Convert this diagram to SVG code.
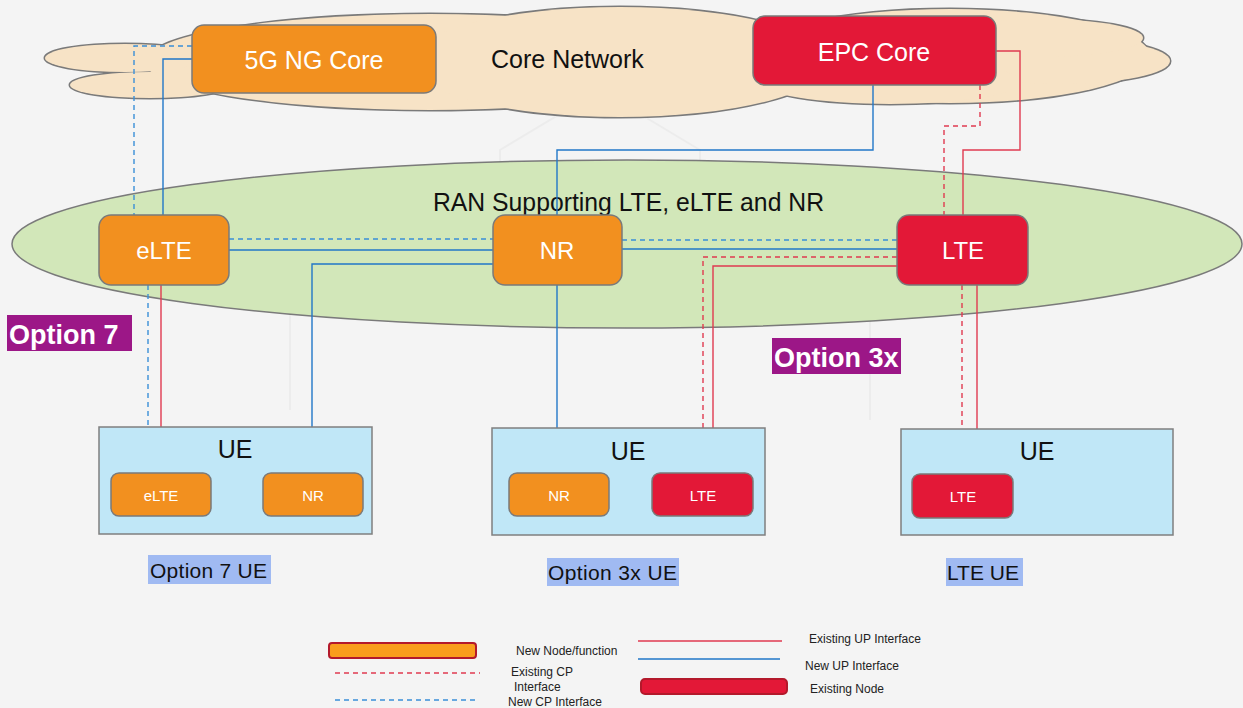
<svg xmlns="http://www.w3.org/2000/svg" width="1243" height="708" viewBox="0 0 1243 708">
<defs>
<style>
text{font-family:"Liberation Sans",Arial,sans-serif}
.node{stroke:#7a7a7a;stroke-width:1.5}
.new{fill:#f2901f}
.old{fill:#e31837}
.wt{fill:#fff;text-anchor:middle}
.bk{fill:#111}
.ue{fill:#c0e7f7;stroke:#7f7f7f;stroke-width:1.5}
.hl{fill:#a0baf2}
.opt{fill:#9c1787}
.ot{fill:#fff;font-weight:bold;font-size:27px}
.up-new{fill:none;stroke:#2177c8;stroke-width:1.4}
.cp-new{fill:none;stroke:#3a8fd8;stroke-width:1.4;stroke-dasharray:5 4}
.up-old{fill:none;stroke:#e03a50;stroke-width:1.4}
.cp-old{fill:none;stroke:#e03a50;stroke-width:1.4;stroke-dasharray:5 4}
.lg{font-size:12px;fill:#222}
</style>
</defs>
<rect width="1243" height="708" fill="#f4f4f4"/>
<g id="background-pattern" fill="none" stroke="#ececec" stroke-width="2">
<path d="M600 90 L700 150 L700 260 L600 320 L500 260 L500 150 Z"/>
<path d="M290 410 L290 300 L380 250"/>
<path d="M870 220 L870 420"/>
</g>
<g id="core-network">
<g fill="#7a7a7a" stroke="#7a7a7a" stroke-width="3">
<ellipse cx="430" cy="62" rx="285" ry="48"/>
<ellipse cx="620" cy="62" rx="210" ry="55"/>
<ellipse cx="125" cy="58" rx="80" ry="14"/>
<ellipse cx="150" cy="85" rx="80" ry="13"/>
<ellipse cx="950" cy="56" rx="200" ry="47"/>
<ellipse cx="1060" cy="61" rx="110" ry="23"/>
<ellipse cx="1040" cy="38" rx="103" ry="19"/>
<ellipse cx="890" cy="82" rx="130" ry="22"/>
</g>
<g fill="#f7e3c6">
<ellipse cx="430" cy="62" rx="285" ry="48"/>
<ellipse cx="620" cy="62" rx="210" ry="55"/>
<ellipse cx="125" cy="58" rx="80" ry="14"/>
<ellipse cx="150" cy="85" rx="80" ry="13"/>
<ellipse cx="950" cy="56" rx="200" ry="47"/>
<ellipse cx="1060" cy="61" rx="110" ry="23"/>
<ellipse cx="1040" cy="38" rx="103" ry="19"/>
<ellipse cx="890" cy="82" rx="130" ry="22"/>
</g>
<text x="491" y="68" font-size="25" class="bk">Core Network</text>
</g>
<g id="ran">
<ellipse cx="627" cy="244" rx="615" ry="84" fill="#d2e7b9" stroke="#7a7a7a" stroke-width="1.5"/>
<text x="433" y="211" font-size="25" class="bk" textLength="391" lengthAdjust="spacingAndGlyphs">RAN Supporting LTE, eLTE and NR</text>
</g>
<g id="connectors">
<path class="up-new" d="M192 59 H163 V215"/>
<path class="cp-new" d="M192 46 H134 V215"/>
<path class="cp-new" d="M148 285 V473"/>
<path class="up-old" d="M161 285 V473"/>
<path class="up-new" d="M312 473 V264 H493"/>
<path class="cp-new" d="M229 239 H493"/>
<path class="up-new" d="M229 250 H493"/>
<path class="cp-new" d="M622 240 H897"/>
<path class="up-new" d="M622 249 H897"/>
<path class="cp-old" d="M897 257 H703 V473"/>
<path class="up-old" d="M897 266 H713 V473"/>
<path class="up-new" d="M873 85 V150 H557 V215"/>
<path class="up-new" d="M557 285 V473"/>
<path class="cp-old" d="M980 85 V126 H944 V215"/>
<path class="up-old" d="M996 51 H1020 V150 H963 V215"/>
<path class="cp-old" d="M962 285 V474"/>
<path class="up-old" d="M977 285 V474"/>
</g>
<g id="node-5g-core">
<rect x="192" y="25" width="244" height="68" rx="12" class="node new"/>
<text x="314" y="69" font-size="25" class="wt">5G NG Core</text>
</g>
<g id="node-epc-core">
<rect x="753" y="16" width="243" height="69" rx="12" class="node old"/>
<text x="874" y="61" font-size="25" class="wt">EPC Core</text>
</g>
<g id="node-elte">
<rect x="99" y="215" width="130" height="70" rx="12" class="node new"/>
<text x="164" y="259" font-size="24" class="wt">eLTE</text>
</g>
<g id="node-nr">
<rect x="493" y="215" width="129" height="70" rx="12" class="node new"/>
<text x="557" y="259" font-size="24" class="wt">NR</text>
</g>
<g id="node-lte">
<rect x="897" y="215" width="131" height="70" rx="12" class="node old"/>
<text x="963" y="259" font-size="24" class="wt">LTE</text>
</g>
<g id="option7-label">
<rect x="7" y="315" width="125" height="36" class="opt"/>
<text x="9" y="344" class="ot">Option 7</text>
</g>
<g id="option3x-label">
<rect x="772" y="338" width="129" height="36" class="opt"/>
<text x="774" y="367" class="ot">Option 3x</text>
</g>
<g id="ue-option7">
<rect x="99" y="427" width="273" height="107" class="ue"/>
<text x="235" y="458" font-size="25" class="bk" text-anchor="middle">UE</text>
<rect x="111" y="473" width="100" height="43" rx="8" class="node new"/>
<text x="161" y="501" font-size="15" class="wt">eLTE</text>
<rect x="263" y="473" width="100" height="43" rx="8" class="node new"/>
<text x="313" y="501" font-size="15" class="wt">NR</text>
<rect x="148" y="555" width="123" height="29" class="hl"/>
<text x="150" y="578" font-size="21" class="bk" textLength="117" lengthAdjust="spacing">Option  7 UE</text>
</g>
<g id="ue-option3x">
<rect x="492" y="428" width="273" height="107" class="ue"/>
<text x="628" y="460" font-size="25" class="bk" text-anchor="middle">UE</text>
<rect x="509" y="473" width="100" height="43" rx="8" class="node new"/>
<text x="559" y="501" font-size="15" class="wt">NR</text>
<rect x="652" y="473" width="101" height="43" rx="8" class="node old"/>
<text x="703" y="501" font-size="15" class="wt">LTE</text>
<rect x="547" y="558" width="132" height="28" class="hl"/>
<text x="548" y="580" font-size="21" class="bk" textLength="129" lengthAdjust="spacing">Option  3x UE</text>
</g>
<g id="ue-lte">
<rect x="901" y="429" width="272" height="106" class="ue"/>
<text x="1037" y="460" font-size="25" class="bk" text-anchor="middle">UE</text>
<rect x="912" y="474" width="101" height="44" rx="8" class="node old"/>
<text x="963" y="502" font-size="15" class="wt">LTE</text>
<rect x="946" y="558" width="77" height="28" class="hl"/>
<text x="947" y="580" font-size="21" class="bk">LTE UE</text>
</g>
<g id="legend">
<rect x="329" y="643" width="147" height="15" rx="3" fill="#f99d1c" stroke="#b3192b" stroke-width="2"/>
<text x="516" y="655" class="lg">New Node/function</text>
<line x1="335" y1="673" x2="480" y2="673" class="cp-old"/>
<text x="511" y="676" class="lg">Existing CP</text>
<text x="514" y="691" class="lg">Interface</text>
<line x1="335" y1="700" x2="476" y2="700" class="cp-new"/>
<text x="508" y="706" class="lg">New CP Interface</text>
<line x1="638" y1="641" x2="782" y2="641" class="up-old"/>
<text x="809" y="643" class="lg">Existing UP Interface</text>
<line x1="638" y1="659" x2="780" y2="659" class="up-new"/>
<text x="805" y="670" class="lg">New UP Interface</text>
<rect x="641" y="679" width="146" height="15" rx="4" fill="#e31837" stroke="#b3192b" stroke-width="2"/>
<text x="810" y="693" class="lg">Existing Node</text>
</g>
</svg>
